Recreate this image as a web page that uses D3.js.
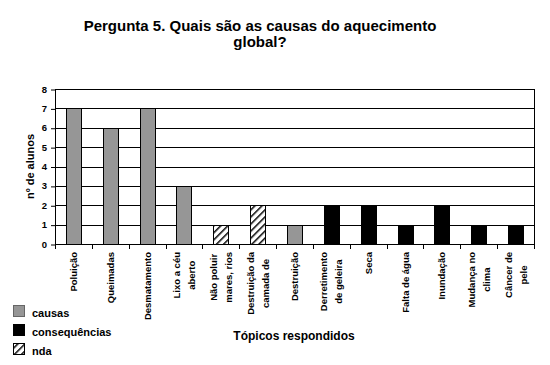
<!DOCTYPE html>
<html>
  <head>
    <meta charset="utf-8">
    <title>Pergunta 5</title>
    <script src="https://cdn.jsdelivr.net/npm/d3@7"></script>
    <style>
      body { margin: 0; background: #fff; overflow: hidden; }
      svg { display: block; }
      text { font-family: Arial, "Liberation Sans", sans-serif; font-weight: bold; }
    </style>
  </head>
  <body>
    <svg width="550" height="365" id="mainsvg"></svg>
    <script>
        // data
        const categories = ['Poluição', 'Queimadas', 'Desmatamento', 'Lixo a céu\naberto',
          'Não poluir\nmares, rios', 'Destruição da\ncamada de', 'Destruição',
          'Derretimento\nde geleira', 'Seca', 'Falta de água', 'Inundação',
          'Mudança no\nclima', 'Câncer de\npele'];
        const values = [7, 6, 7, 3, 1, 2, 1, 2, 2, 1, 2, 1, 1];
        const groups = ['causas', 'causas', 'causas', 'causas', 'nda', 'nda', 'causas',
          'consequências', 'consequências', 'consequências', 'consequências',
          'consequências', 'consequências'];
        const seriesNames = ['causas', 'consequências', 'nda'];
        const yTicks = [0, 1, 2, 3, 4, 5, 6, 7, 8];

        const svg = d3.select('#mainsvg');
        const margin = {top: 89, right: 16, bottom: 121, left: 55};
        const width = +svg.attr('width');
        const height = +svg.attr('height');

        // hatch pattern for "nda"
        const defs = svg.append('defs');
        defs.append('pattern').attr('id', 'hatch')
          .attr('patternUnits', 'userSpaceOnUse')
          .attr('width', 5).attr('height', 5)
          .attr('patternTransform', 'rotate(45)')
          .call(p => {
            p.append('rect').attr('width', 5).attr('height', 5).attr('fill', '#fff');
            p.append('line').attr('x1', 0).attr('y1', 0).attr('x2', 0).attr('y2', 5)
              .attr('stroke', '#000').attr('stroke-width', 3);
          });

        const fill = d3.scaleOrdinal()
          .domain(seriesNames)
          .range(['#969696', '#000000', 'url(#hatch)']);

        // scales in page coordinates
        const x = d3.scaleBand().domain(categories).range([margin.left, width - margin.right]);
        const y = d3.scaleLinear().domain([0, 8]).range([height - margin.bottom, margin.top]);
        const x0 = margin.left, x1 = width - margin.right;
        const yb = Math.round(y(0));

        // title
        const title = svg.append('text')
          .attr('text-anchor', 'middle')
          .attr('font-size', 15)
          .attr('x', 260).attr('y', 31);
        title.append('tspan').attr('x', 260).text('Pergunta 5. Quais são as causas do aquecimento');
        title.append('tspan').attr('x', 260).attr('dy', 16).text('global?');

        // gridlines
        svg.selectAll('.grid').data(yTicks).join('line')
          .attr('class', 'grid')
          .attr('x1', x0).attr('x2', x1)
          .attr('y1', d => Math.round(y(d)) + 0.5).attr('y2', d => Math.round(y(d)) + 0.5)
          .attr('stroke', '#000');

        // plot border
        svg.append('rect')
          .attr('x', x0 + 0.5).attr('y', Math.round(y(8)) + 0.5)
          .attr('width', x1 - x0).attr('height', yb - Math.round(y(8)))
          .attr('fill', 'none').attr('stroke', '#000');

        // bars
        const barW = 15;
        svg.selectAll('.bar').data(values).join('rect')
          .attr('class', 'bar')
          .attr('x', (d, i) => Math.round(x(categories[i]) + x.bandwidth() / 2 - barW / 2) + 0.5)
          .attr('y', d => Math.round(y(d)) + 0.5)
          .attr('width', barW)
          .attr('height', d => yb - Math.round(y(d)))
          .attr('fill', (d, i) => fill(groups[i]))
          .attr('stroke', '#000');

        // y axis ticks (d3 axis), labels placed from the same scale
        const yAxis = svg.append('g').attr('transform', `translate(${x0}, 0.5)`)
          .call(d3.axisLeft(y).tickValues(yTicks).tickSize(4).tickFormat(''));
        yAxis.select('.domain').remove();
        svg.selectAll('.ytick').data(yTicks).join('text')
          .attr('class', 'ytick')
          .attr('x', x0 - 8).attr('y', d => y(d) + 3.5)
          .attr('text-anchor', 'end')
          .attr('font-size', 9.5)
          .text(d => d);

        // x axis: ticks at band boundaries
        const bounds = categories.map(c => x(c)).concat([x1]);
        svg.selectAll('.xtick').data(bounds).join('line')
          .attr('class', 'xtick')
          .attr('x1', d => Math.round(d) + 0.5).attr('x2', d => Math.round(d) + 0.5)
          .attr('y1', yb).attr('y2', yb + 5)
          .attr('stroke', '#000');

        // rotated category labels, lines centred inside a top anchored block
        categories.forEach(c => {
          const lines = c.split('\n');
          const cx = x(c) + x.bandwidth() / 2;
          const texts = lines.map(ln => svg.append('text')
            .attr('font-size', 9.5)
            .attr('text-anchor', 'middle')
            .text(ln));
          const maxLen = d3.max(texts, t => t.node().getComputedTextLength());
          const midY = yb + 8 + maxLen / 2;
          texts.forEach((t, k) => {
            const tx = cx + (k - (lines.length - 1) / 2) * 15 + 3.5;
            t.attr('x', tx).attr('y', midY)
              .attr('transform', `rotate(-90, ${tx}, ${midY})`);
          });
        });

        // axis titles
        const ym = (y(0) + y(8)) / 2;
        svg.append('text')
          .attr('x', 34).attr('y', ym)
          .attr('transform', `rotate(-90, 34, ${ym})`)
          .attr('text-anchor', 'middle')
          .attr('font-size', 11)
          .text('nº de alunos');

        svg.append('text')
          .attr('x', 294).attr('y', 340)
          .attr('text-anchor', 'middle')
          .attr('font-size', 12)
          .text('Tópicos respondidos');

        // legend
        seriesNames.forEach((s, i) => {
          const ty = 305 + i * 19;
          svg.append('rect').attr('x', 13.5).attr('y', ty + 0.5).attr('width', 11).attr('height', 11)
            .attr('fill', fill(s)).attr('stroke', i === 0 ? '#666' : '#000');
          svg.append('text').attr('x', 32).attr('y', ty + 12).attr('font-size', 11).text(s);
        });
    </script>
  </body>
</html>
